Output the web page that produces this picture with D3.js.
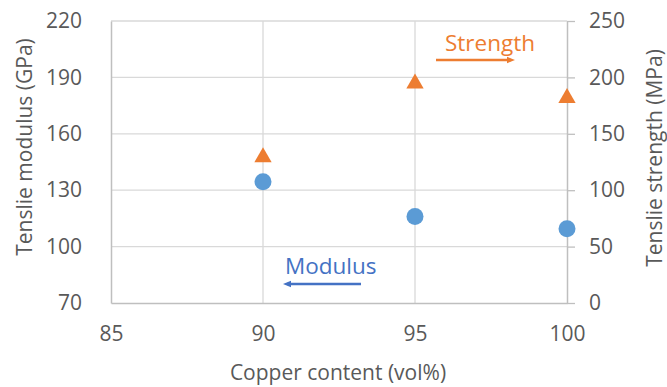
<!DOCTYPE html>
<html>
<head>
<meta charset="utf-8">
<script src="https://cdn.jsdelivr.net/npm/d3@7"></script>
<style>
  body { margin: 0; background: #fff; }
  text { font-family: "Open Sans", Lato, sans-serif; }
</style>
</head>
<body>
<svg id="chart" width="667" height="387"></svg>
<script>
const copper = [90, 95, 100];
const modulus = [134.5, 116, 109.5];
const strength = [130.5, 196, 183];
const xTicks = [85, 90, 95, 100];
const yLeftTicks = [70, 100, 130, 160, 190, 220];
const yRightTicks = [0, 50, 100, 150, 200, 250];

const svg = d3.select("#chart");
const L = 111, R = 567, T = 21, B = 303;
const x = d3.scaleLinear().domain([85, 100]).range([L, R]);
const yL = d3.scaleLinear().domain([70, 220]).range([B, T]);
const yR = d3.scaleLinear().domain([0, 250]).range([B, T]);
const grey = "#595959";
const grid = "#d9d9d9";
const fs = "21px";

// gridlines
svg.append("g").selectAll("line.h").data(yLeftTicks.slice(1)).join("line")
  .attr("x1", L).attr("x2", R).attr("y1", d => yL(d)).attr("y2", d => yL(d))
  .attr("stroke", grid).attr("stroke-width", 1.3);
svg.append("g").selectAll("line.v").data(xTicks.slice(1, 3)).join("line")
  .attr("y1", T).attr("y2", B).attr("x1", d => x(d)).attr("x2", d => x(d))
  .attr("stroke", grid).attr("stroke-width", 1.3);

// left axis
const gl = svg.append("g").attr("transform", `translate(${L},0)`)
  .call(d3.axisLeft(yL).tickValues(yLeftTicks).tickSize(0).tickPadding(29));
gl.select(".domain").attr("stroke", "#bfbfbf").attr("stroke-width", 1.5);
gl.selectAll("text").attr("fill", grey).style("font-size", fs);

// right axis
const gr = svg.append("g").attr("transform", `translate(${R},0)`)
  .call(d3.axisRight(yR).tickValues(yRightTicks).tickSize(8).tickPadding(14).tickSizeOuter(0));
gr.select(".domain").attr("stroke", "#bfbfbf").attr("stroke-width", 1.5);
gr.selectAll(".tick line").attr("stroke", "#bfbfbf").attr("stroke-width", 1.3);
gr.selectAll("text").attr("fill", grey).style("font-size", fs);

// bottom axis
const gb = svg.append("g").attr("transform", `translate(0,${B})`)
  .call(d3.axisBottom(x).tickValues(xTicks).tickSize(0).tickPadding(23));
gb.select(".domain").attr("stroke", "#bfbfbf").attr("stroke-width", 1.5);
gb.selectAll("text").attr("fill", grey).style("font-size", fs);

// axis titles
svg.append("text").attr("transform", `translate(32,147) rotate(-90)`)
  .attr("text-anchor", "middle").attr("fill", grey).style("font-size", fs)
  .text("Tenslie modulus (GPa)");
svg.append("text").attr("transform", `translate(662,158) rotate(-90)`)
  .attr("text-anchor", "middle").attr("fill", grey).style("font-size", fs)
  .text("Tenslie strength (MPa)");
svg.append("text").attr("x", 338).attr("y", 380)
  .attr("text-anchor", "middle").attr("fill", grey).style("font-size", fs)
  .text("Copper content (vol%)");

// points
svg.append("g").selectAll("circle").data(copper).join("circle")
  .attr("cx", d => x(d)).attr("cy", (d, i) => yL(modulus[i])).attr("r", 8.5)
  .attr("fill", "#5B9BD5");
const tri = d3.symbol().type(d3.symbolTriangle).size(130);
svg.append("g").selectAll("path").data(copper).join("path")
  .attr("d", tri)
  .attr("transform", (d, i) => `translate(${x(d)},${yR(strength[i]) + 1.5})`)
  .attr("fill", "#ED7D31");

// annotations
const defs = svg.append("defs");
function marker(id, color) {
  defs.append("marker").attr("id", id).attr("viewBox", "0 0 10 10")
    .attr("refX", 5).attr("refY", 5).attr("markerWidth", 3.2).attr("markerHeight", 3.2)
    .attr("orient", "auto-start-reverse")
    .append("path").attr("d", "M0,1 L10,5 L0,9 z").attr("fill", color);
}
marker("arrO", "#ED7D31");
marker("arrB", "#4472C4");
svg.append("text").attr("x", 445).attr("y", 51).attr("fill", "#ED7D31")
  .style("font-size", "22.5px").text("Strength");
svg.append("line").attr("x1", 436).attr("x2", 511).attr("y1", 60).attr("y2", 60)
  .attr("stroke", "#ED7D31").attr("stroke-width", 2.6).attr("marker-end", "url(#arrO)");
svg.append("text").attr("x", 285).attr("y", 274).attr("fill", "#4472C4")
  .style("font-size", "22.5px").text("Modulus");
svg.append("line").attr("x1", 361).attr("x2", 287).attr("y1", 284).attr("y2", 284)
  .attr("stroke", "#4472C4").attr("stroke-width", 2.6).attr("marker-end", "url(#arrB)");
</script>
</body>
</html>
